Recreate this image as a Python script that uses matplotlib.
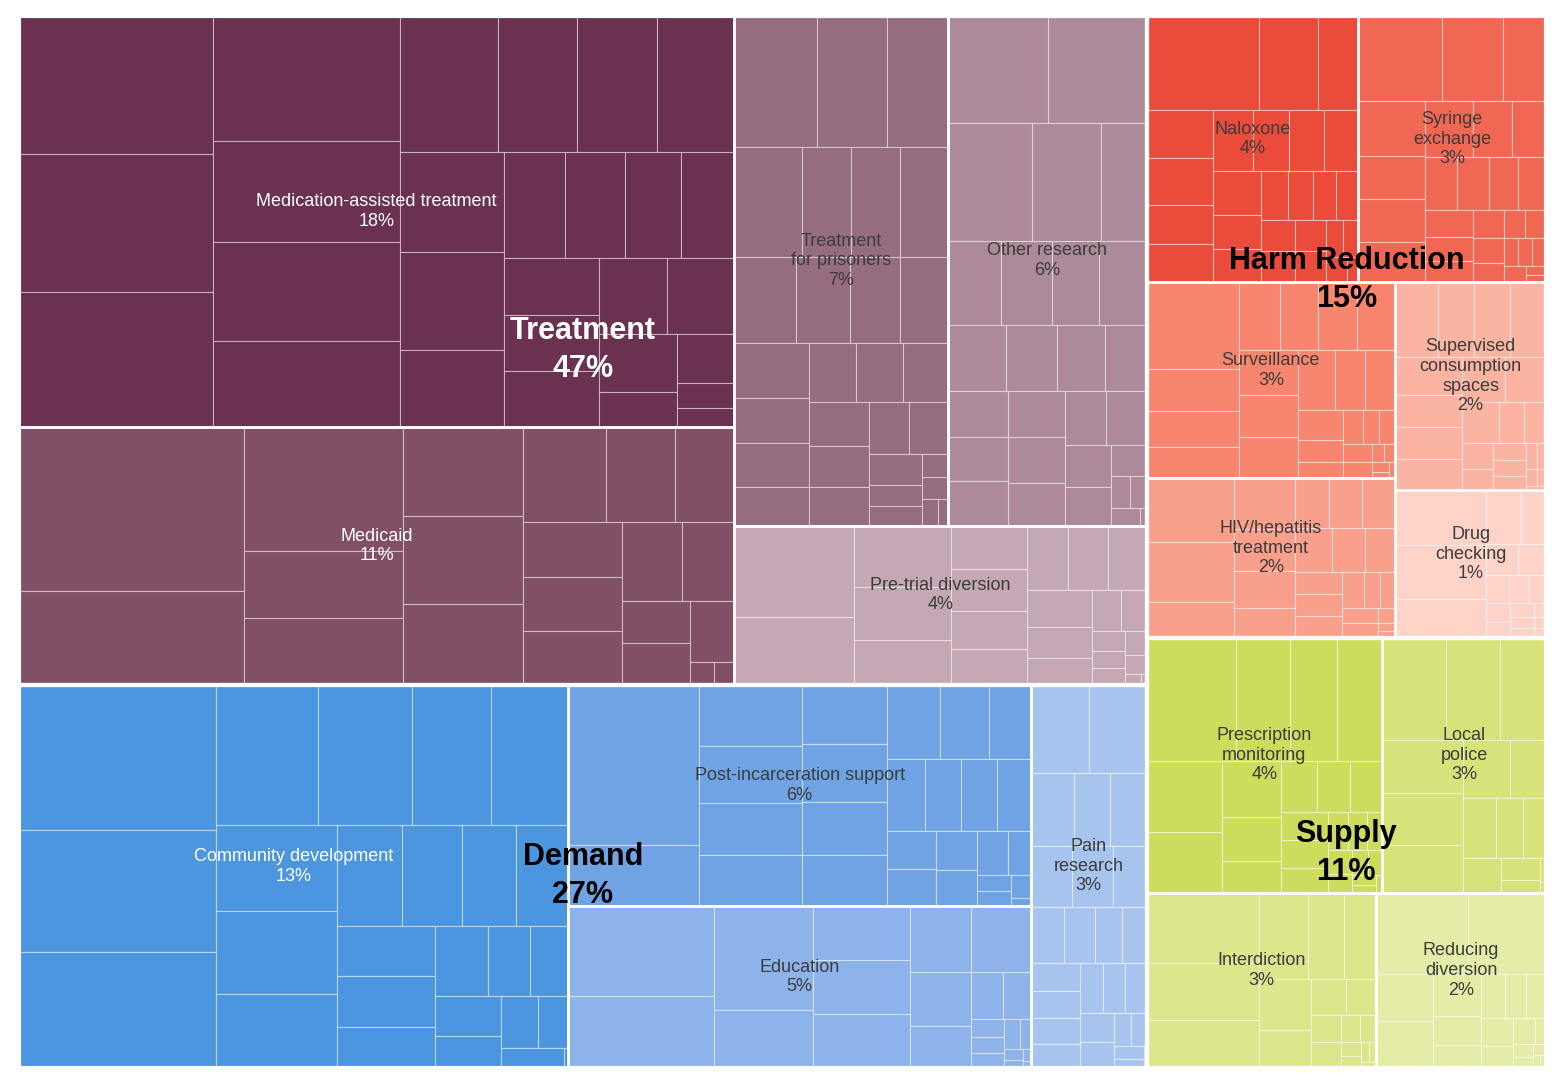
#!/usr/bin/env python3
"""Opioid settlement spending treemap: groups -> categories -> individual items.

Layout follows d3's squarified treemap (golden ratio), values sorted descending.
"""
import matplotlib
matplotlib.use("Agg")
import matplotlib.pyplot as plt
from matplotlib.patches import Rectangle

# ---- data -------------------------------------------------------------
groups = ["Treatment", "Demand", "Harm Reduction", "Supply"]
group_pct = ["47%", "27%", "15%", "11%"]
group_text_color = ["white", "black", "black", "black"]
group_label_dy = [0, 0, -47, 0]

sub_labels = [
    "Medication-assisted treatment", "Medicaid", "Treatment\nfor prisoners",
    "Other research", "Pre-trial diversion",
    "Community development", "Post-incarceration support", "Education",
    "Pain\nresearch",
    "Naloxone", "Syringe\nexchange", "Surveillance",
    "Supervised\nconsumption\nspaces", "HIV/hepatitis\ntreatment",
    "Drug\nchecking",
    "Prescription\nmonitoring", "Local\npolice", "Interdiction",
    "Reducing\ndiversion",
]
sub_pct = ["18%", "11%", "7%", "6%", "4%",
           "13%", "6%", "5%", "3%",
           "4%", "3%", "3%", "2%", "2%", "1%",
           "4%", "3%", "3%", "2%"]
sub_group = [0, 0, 0, 0, 0, 1, 1, 1, 1, 2, 2, 2, 2, 2, 2, 3, 3, 3, 3]
# relative spending per category
sub_value = [294.3, 184.0, 109.2, 101.1, 65.7,
             210.7, 102.3, 75.0, 44.4,
             56.4, 50.0, 48.8, 31.4, 39.6, 22.2,
             60.2, 41.8, 40.25, 29.75]
sub_colors = ["#6a3150", "#815066", "#966c80", "#ac8a9a", "#c4a8b5",
              "#4c96e0", "#6fa3e3", "#8db3ea", "#a7c4ef",
              "#ea4b3a", "#f06854", "#f8866f", "#fbb4a2", "#f9a08c", "#fdd3c8",
              "#cddc5c", "#d6e37a", "#dde68c", "#e5eca8"]
sub_text_color = ["white", "white", "#3c3c3c", "#3c3c3c", "#3c3c3c",
                  "white", "#3c3c3c", "#3c3c3c", "#3c3c3c",
                  "#3c3c3c", "#3c3c3c", "#3c3c3c", "#3c3c3c", "#3c3c3c", "#3c3c3c",
                  "#3c3c3c", "#3c3c3c", "#3c3c3c", "#3c3c3c"]

# relative sizes of the individual items inside each category
mat_leaves = [171, 171, 168, 149, 121, 118, 103, 85, 69, 69, 67, 67, 65, 52,
              41, 41, 38, 36, 34, 34, 34, 33, 32, 29, 18, 18, 9, 7]
medicaid_leaves = [232, 134, 125, 68, 67, 67, 66, 61, 50, 41, 35, 35, 34, 34,
                   30, 26, 18, 18, 17, 3.4, 2.8]
prisoner_leaves = [10.6, 8.9, 7.8, 7.3, 5.2, 5.2, 5.2, 5.2, 4.5, 4.2, 4.05,
                   4.0, 3.3, 3.15, 2.8, 2.75, 2.7, 2.6, 2.6, 2.4, 2.3, 2.0,
                   2.0, 1.6, 1.07, 0.97, 0.6, 0.56, 0.43, 0.26]
other_research_leaves = [10.35, 10.14, 9.53, 7.86, 5.17, 4.25, 4.17, 3.86,
                         3.83, 3.72, 3.24, 3.04, 2.69, 2.63, 2.6, 2.56, 2.5,
                         2.5, 2.35, 2.1, 2.07, 1.85, 1.7, 1.07, 0.6, 0.53,
                         0.49, 0.11]
pretrial_leaves = [10.5, 7.8, 5.76, 4.9, 4.16, 3.15, 3.05, 2.75, 2.63, 2.55,
                   2.5, 2.36, 2.29, 1.95, 1.65, 1.16, 1.0, 0.63, 0.53, 0.52,
                   0.49, 0.41, 0.16, 0.06]
community_leaves = [235.6, 197.3, 188.0, 118.3, 107.9, 92.1, 89.2, 85.9, 83.1,
                    73.7, 53.9, 49.5, 44.7, 43.8, 40.4, 40.4, 33.1, 30.5, 24.1,
                    22.2, 21.9, 17.5, 16.0, 13.1, 10.6, 0.8]
post_leaves = [183.7, 69.8, 55.7, 51.4, 47.1, 45.9, 44.5, 42.9, 39.9, 37.8,
               34.4, 31.6, 27.3, 23.5, 23.3, 22.3, 21.6, 16.0, 15.7, 14.4,
               12.9, 11.9, 8.6, 4.7, 4.5, 4.1, 1.4]
education_leaves = [113.9, 90.5, 89.7, 50.5, 45.5, 45.2, 45.2, 34.9, 34.6,
                    28.8, 22.2, 13.2, 11.1, 5.1, 4.7, 4.4, 4.1, 2.9, 1.7, 1.3,
                    0.8, 0.5]
pain_leaves = [43.8, 43.6, 26.9, 22.6, 22.6, 21.6, 21.2, 17.5, 15.9, 15.4,
               13.0, 11.7, 11.7, 11.6, 11.0, 10.0, 9.6, 9.3, 9.0, 8.4, 7.6,
               4.6, 4.5, 3.2, 2.4, 0.5]
naloxone_leaves = [92.0, 47.9, 33.2, 28.2, 27.6, 22.7, 22.1, 21.1, 19.5, 19.1,
                   18.2, 18.2, 14.0, 13.7, 11.3, 10.9, 9.5, 9.4, 9.3, 9.3,
                   8.7, 8.6, 5.5, 4.9, 4.5, 2.6]
syringe_leaves = [61.7, 44.6, 31.3, 31.0, 24.7, 24.1, 23.2, 22.9, 19.0, 16.2,
                  14.8, 14.6, 13.3, 12.6, 11.1, 9.9, 8.6, 7.2, 6.8, 5.1, 5.0,
                  4.8, 3.5, 3.5, 3.4, 3.0, 1.5, 1.25]
surveillance_leaves = [70.1, 34.4, 28.9, 25.3, 23.8, 23.0, 22.8, 22.8, 22.8,
                       21.8, 21.2, 18.8, 15.9, 15.4, 11.6, 8.8, 6.2, 5.8, 4.8,
                       4.8, 4.5, 4.2, 2.0, 1.9, 1.5, 1.0, 0.8]
supervised_leaves = [27.1, 23.0, 22.8, 22.8, 21.7, 18.2, 17.9, 17.7, 16.4,
                     15.8, 13.0, 8.8, 7.7, 7.0, 5.8, 4.8, 4.4, 4.1, 2.4, 2.0,
                     1.5, 1.2, 0.8]
hiv_leaves = [47.6, 45.8, 26.6, 26.2, 22.1, 19.2, 15.3, 14.6, 14.1, 14.0,
              13.8, 12.4, 11.5, 9.1, 9.0, 8.8, 6.8, 5.2, 4.7, 4.6, 4.5, 2.2,
              1.2, 0.9]
drug_checking_leaves = [44.9, 44.7, 31.9, 17.0, 12.0, 9.0, 8.0, 6.0, 5.0, 4.4,
                        4.0, 3.5, 3.0, 2.5, 2.0, 1.5, 1.2, 1.0]
prescription_leaves = [94.1, 56.8, 49.7, 47.2, 45.8, 38.8, 28.1, 22.4, 15.9,
                       15.5, 14.5, 13.9, 11.5, 11.0, 9.9, 6.6, 6.1, 5.1, 5.0,
                       4.0, 3.5, 3.0, 2.0, 1.5, 1.0]
police_leaves = [55.9, 46.8, 39.9, 36.4, 35.5, 32.5, 23.4, 17.6, 17.0, 13.7,
                 11.4, 11.4, 7.5, 4.1, 1.3, 0.6]
interdiction_leaves = [68.1, 55.1, 46.1, 36.3, 26.3, 24.0, 23.0, 16.8, 11.1,
                       9.3, 7.3, 6.9, 4.3, 3.9, 2.3, 2.0, 1.5, 1.2, 0.8]
reducing_leaves = [61.7, 52.9, 22.5, 22.4, 16.9, 11.7, 9.4, 8.8, 7.6, 7.5,
                   7.5, 5.7, 4.9, 2.3, 2.3, 1.8, 1.2, 0.8, 0.6]

sub_leaves = [mat_leaves, medicaid_leaves, prisoner_leaves,
              other_research_leaves, pretrial_leaves,
              community_leaves, post_leaves, education_leaves, pain_leaves,
              naloxone_leaves, syringe_leaves, surveillance_leaves,
              supervised_leaves, hiv_leaves, drug_checking_leaves,
              prescription_leaves, police_leaves, interdiction_leaves,
              reducing_leaves]

PHI = (1 + 5 ** 0.5) / 2
W, H = 1552, 1080
BOX = (19, 16, 1546, 1068)


def squarify(values, x0, y0, x1, y1, ratio=PHI):
    """Port of d3.treemapSquarify; values must be sorted descending."""
    n = len(values)
    rects = [None] * n
    value = float(sum(values))
    i0 = i1 = 0
    while i0 < n:
        dx, dy = x1 - x0, y1 - y0
        sum_v = values[i1]
        i1 += 1
        min_v = max_v = sum_v
        alpha = max(dy / dx, dx / dy) / (value * ratio)
        beta = sum_v * sum_v * alpha
        min_ratio = max(max_v / beta, beta / min_v)
        while i1 < n:
            v = values[i1]
            s = sum_v + v
            mn, mx = min(min_v, v), max(max_v, v)
            beta = s * s * alpha
            new_ratio = max(mx / beta, beta / mn)
            if new_ratio > min_ratio:
                break
            sum_v, min_v, max_v, min_ratio = s, mn, mx, new_ratio
            i1 += 1
        if dx < dy:
            # row across the top
            y_end = y0 + dy * sum_v / value
            x = x0
            for k in range(i0, i1):
                w = dx * values[k] / sum_v
                rects[k] = (x, y0, x + w, y_end)
                x += w
            y0 = y_end
        else:
            # column down the left
            x_end = x0 + dx * sum_v / value
            y = y0
            for k in range(i0, i1):
                h = dy * values[k] / sum_v
                rects[k] = (x0, y, x_end, y + h)
                y += h
            x0 = x_end
        value -= sum_v
        i0 = i1
    return rects


def box(ax, r, **kw):
    ax.add_patch(Rectangle((r[0], r[1]), r[2] - r[0], r[3] - r[1], **kw))


fig = plt.figure(figsize=(W / 100, H / 100), dpi=100)
ax = fig.add_axes([0, 0, 1, 1])
ax.set_xlim(0, W)
ax.set_ylim(H, 0)
ax.axis("off")

FONT = "Liberation Sans"

group_vals = [sum(v for v, g in zip(sub_value, sub_group) if g == gi)
              for gi in range(len(groups))]
g_order = sorted(range(len(groups)), key=lambda i: -group_vals[i])
g_rects = squarify([group_vals[i] for i in g_order], *BOX)

sub_rects = {}
group_rect = {}
for gi, gr in zip(g_order, g_rects):
    group_rect[gi] = gr
    members = [s for s in range(len(sub_value)) if sub_group[s] == gi]
    members.sort(key=lambda s: -sub_value[s])
    for s, sr in zip(members, squarify([sub_value[s] for s in members], *gr)):
        sub_rects[s] = sr

for s, sr in sub_rects.items():
    leaves = sorted(sub_leaves[s], reverse=True)
    tot = sum(leaves)
    vals = [sub_value[s] * v / tot for v in leaves]
    for lr in squarify(vals, *sr):
        box(ax, lr, facecolor=sub_colors[s], edgecolor=(1, 1, 1, 0.42),
            lw=0.8)

for s, sr in sub_rects.items():
    box(ax, sr, fill=False, edgecolor="white", lw=1.8)
for gi, gr in group_rect.items():
    box(ax, gr, fill=False, edgecolor="white", lw=3.0)

# category labels
for s, sr in sub_rects.items():
    cx = (sr[0] + sr[2]) / 2
    cy = (sr[1] + sr[3]) / 2 - 10
    ax.text(cx, cy, sub_labels[s] + "\n" + sub_pct[s], ha="center",
            va="center", ma="center", fontsize=13, family=FONT,
            linespacing=1.2, color=sub_text_color[s])

# group labels
for gi, gr in group_rect.items():
    cx = (gr[0] + gr[2]) / 2
    cy = (gr[1] + gr[3]) / 2 + group_label_dy[gi]
    for txt, dy in ((groups[gi], -19), (group_pct[gi], 19)):
        ax.text(cx, cy + dy, txt, ha="center", va="center", fontsize=22,
                family=FONT, fontweight="bold", color=group_text_color[gi])

fig.savefig("out.png", dpi=100)
